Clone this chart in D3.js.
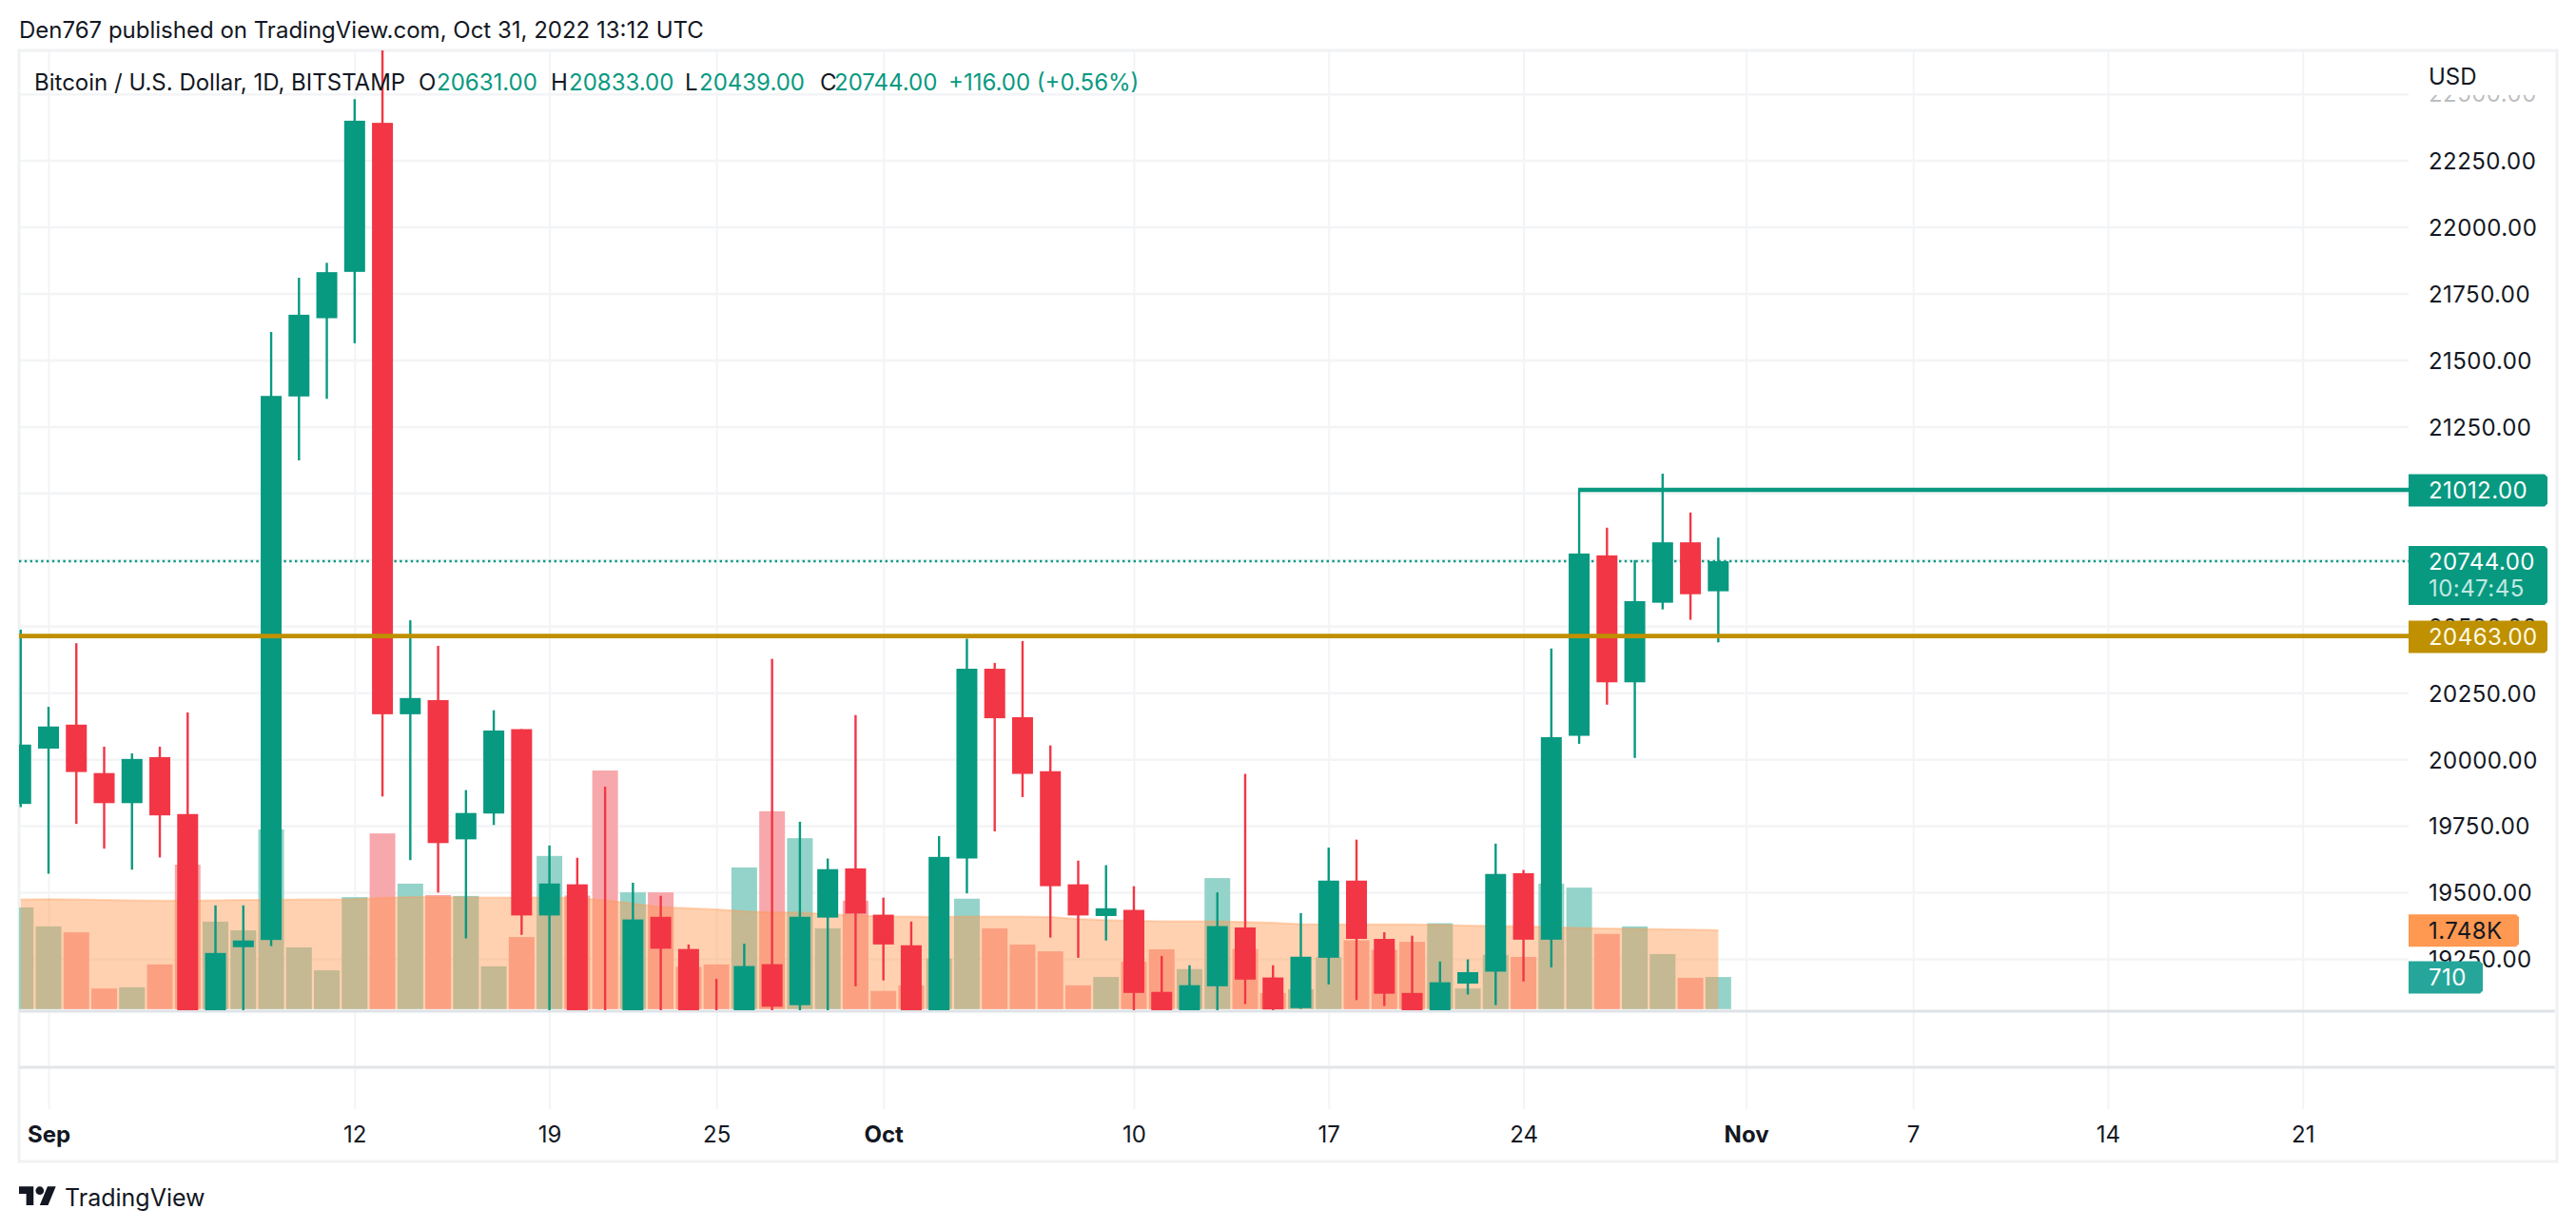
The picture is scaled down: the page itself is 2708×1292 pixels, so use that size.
<!DOCTYPE html>
<html><head><meta charset="utf-8">
<script src="https://cdn.jsdelivr.net/npm/d3@7"></script>
<style>html,body{margin:0;padding:0;background:#fff}svg{display:block}text{font-family:Inter,sans-serif}</style>
</head><body><div id="chart"></div>
<script>
const firstDay = "2022-08-31";
const opens  = [19832,20040,20130,19948,19835,20008,19794,18790,19294,19321,21363,21657,21831,22391,20169,20222,19699,19796,20113,19413,19530,18870,18480,19408,19287,18920,18800,19230,19076,19405,19590,19416,19301,19050,19627,20340,20158,19955,19530,19411,19434,19126,19050,19147,19368,19180,19065,19254,19544,19325,19122,19040,19157,19202,19572,19322,20088,20766,20289,20588,20815,20631];
const highs  = [20487,20197,20436,20047,20022,20047,20176,19451,19451,21605,21809,21865,22480,22790,20522,20426,19884,20184,20113,19676,19630,19897,19536,19487,19304,19175,19307,20377,19765,19627,20166,19480,19390,19711,20453,20362,20444,20052,19619,19602,19523,19261,19226,19500,19945,19226,19422,19668,19698,19350,19337,19240,19248,19683,19584,20416,21012,20870,20748,21073,20927,20833];
const lows   = [19820,19570,19757,19664,19585,19631,18650,18700,18900,19298,21123,21354,21563,19860,19621,19499,19327,19753,19340,18300,18800,18200,18400,18600,18800,18650,18680,18820,18500,18850,19147,19169,18950,18970,19496,19729,19858,19330,19254,19319,18950,18900,18980,18200,19080,18980,19062,19154,19095,19073,18900,18700,19116,19076,19165,19218,20058,20205,20005,20563,20524,20439];
const closes = [20055,20123,19952,19835,20001,19789,18790,19272,19319,21365,21670,21830,22399,20169,20230,19685,19798,20108,19413,19533,18870,18480,19398,19288,18920,18800,19223,19070,19408,19587,19420,19304,19050,19633,20340,20154,19945,19523,19413,19440,19122,19050,19151,19373,19172,19060,19258,19544,19325,19119,19040,19162,19200,19569,19322,20083,20773,20289,20594,20815,20620,20744];
const volumes = [2251,1831,1699,456,482,990,3197,1936,1743,3977,1367,858,2479,3889,2777,2523,2505,946,1594,3390,2514,5282,2584,2584,937,990,3136,4380,3784,1787,2400,402,523,1119,2444,1787,1428,1279,526,710,1051,1323,885,2900,1330,354,438,1148,1524,1314,1489,1901,456,1200,1156,2777,2689,1664,1831,1218,692,710];
const volumeMA = [2427,2435,2427,2418,2409,2400,2400,2409,2418,2418,2427,2427,2435,2462,2479,2479,2470,2470,2470,2470,2462,2409,2339,2260,2234,2208,2164,2137,2137,2102,2076,2050,2050,2041,2050,2050,2050,2041,1997,1971,1953,1945,1945,1945,1927,1910,1883,1875,1875,1875,1875,1866,1848,1840,1831,1813,1796,1787,1778,1770,1761,1748];
const priceTicks = [22500,22250,22000,21750,21500,21250,21000,20750,20500,20250,20000,19750,19500,19250];
const timeTickDays = ["2022-09-01","2022-09-12","2022-09-19","2022-09-25","2022-10-01","2022-10-10","2022-10-17","2022-10-24","2022-11-01","2022-11-07","2022-11-14","2022-11-21"];
const timeTickLabels = ["Sep","12","19","25","Oct","10","17","24","Nov","7","14","21"];
const monthLabels = ["Sep","Oct","Nov"];
const resistance = 21012, support = 20463, lastClose = 20744, lastVolume = "710", lastMA = "1.748K", countdown = "10:47:45";
const publishText = "Den767 published on TradingView.com, Oct 31, 2022 13:12 UTC";
const symbolText = "Bitcoin / U.S. Dollar, 1D, BITSTAMP";
const ohlcLetters = ["O","H","L","C"];
const ohlcValues = ["20631.00","20833.00","20439.00","20744.00"];
const changeText = "+116.00 (+0.56%)";

const GREEN="#089981", RED="#F23645", GOLD="#BF9000", ORANGE="#FF9850", INK="#131722", GRID="#f3f4f6";
const W=2708,H=1292, L=20,R=2688,T=53,B=1221, PR=2532, PB=1062, VB=1166;
const FS=24, LS=0.45;
const svg=d3.select("#chart").append("svg").attr("width",W).attr("height",H).attr("viewBox",[0,0,W,H]);
const parse=d3.utcParse("%Y-%m-%d");
const days=opens.map((_,i)=>d3.utcDay.offset(parse(firstDay),i));
const x=d3.scaleUtc([parse("2022-09-01"),parse("2022-11-01")],[51,1835.6]);
const y=d3.scaleLinear([19250,21250],[1008,448.4]);
const v=d3.scaleLinear([0,1748],[1060.8,977.8]);
const fmt=d3.format(".2f");
const defs=svg.append("defs");
defs.append("clipPath").attr("id","plot").append("rect").attr("x",L).attr("y",T).attr("width",PR-L).attr("height",PB-T);
defs.append("clipPath").attr("id","topfade").append("rect").attr("x",PR).attr("y",100).attr("width",R-PR).attr("height",PB);

// publish text
svg.append("text").attr("x",20).attr("y",32).attr("dy","0.35em").attr("font-size",24).attr("fill",INK).text(publishText);

// grids via axes
const gridY=svg.append("g").attr("transform",`translate(${L},0)`)
  .call(d3.axisRight(y).tickValues(priceTicks).tickSize(PR-L).tickFormat(""));
gridY.select(".domain").remove();
gridY.selectAll("line").attr("stroke",GRID).attr("stroke-width",2.5);
const gridX=svg.append("g").attr("transform",`translate(0,${T})`)
  .call(d3.axisBottom(x).tickValues(timeTickDays.map(parse)).tickSize(VB-T).tickFormat(""));
gridX.select(".domain").remove();
gridX.selectAll("line").attr("stroke",GRID).attr("stroke-width",2);

// frame and panes
svg.append("rect").attr("x",L).attr("y",T).attr("width",R-L).attr("height",B-T).attr("fill","none").attr("stroke","#f0f1f3").attr("stroke-width",3);
svg.append("line").attr("x1",L).attr("x2",R-2).attr("y1",1122).attr("y2",1122).attr("stroke","#e3e5e8").attr("stroke-width",3);

// volume bars
const plot=svg.append("g").attr("clip-path","url(#plot)");
const up=i=>closes[i]>=opens[i];
const barW=27, bodyW=22, wickW=2.4;
plot.append("g").selectAll("rect").data(days).join("rect")
  .attr("x",d=>x(d)-barW/2).attr("width",barW)
  .attr("y",(d,i)=>v(volumes[i])).attr("height",(d,i)=>v(0)-v(volumes[i]))
  .attr("fill",(d,i)=>up(i)?"#94D3C9":"#F7A8AC");
// volume MA area
const area=d3.area().x((d,i)=>x(days[i])).y0(v(0)).y1(d=>v(d)).curve(d3.curveLinear);
plot.append("path").datum(volumeMA).attr("d",area).attr("fill",ORANGE).attr("fill-opacity",0.45);
plot.append("path").datum(volumeMA).attr("d",d3.line().x((d,i)=>x(days[i])).y(d=>v(d))).attr("fill","none").attr("stroke",ORANGE).attr("stroke-opacity",0.35).attr("stroke-width",2);
// baseline
svg.append("line").attr("x1",L).attr("x2",R-2).attr("y1",1063).attr("y2",1063).attr("stroke","#dfe3e8").attr("stroke-width",3);
// current price dotted
svg.append("line").attr("x1",L).attr("x2",PR).attr("y1",y(lastClose)).attr("y2",y(lastClose)).attr("stroke",GREEN).attr("stroke-width",2.4).attr("stroke-dasharray","2.4 3.4");
// candles
const plot2=svg.append("g").attr("clip-path","url(#plot)");
plot2.append("g").selectAll("rect").data(days).join("rect")
  .attr("x",d=>x(d)-wickW/2).attr("width",wickW)
  .attr("y",(d,i)=>y(highs[i])).attr("height",(d,i)=>y(lows[i])-y(highs[i]))
  .attr("fill",(d,i)=>up(i)?GREEN:RED);
plot2.append("g").selectAll("rect").data(days).join("rect")
  .attr("x",d=>x(d)-bodyW/2).attr("width",bodyW)
  .attr("y",(d,i)=>y(Math.max(opens[i],closes[i]))).attr("height",(d,i)=>Math.abs(y(opens[i])-y(closes[i])))
  .attr("fill",(d,i)=>up(i)?GREEN:RED);
// level lines
svg.append("line").attr("x1",L).attr("x2",PR).attr("y1",y(support)).attr("y2",y(support)).attr("stroke",GOLD).attr("stroke-width",4.6);
svg.append("line").attr("x1",x(days[56])-1).attr("x2",PR).attr("y1",y(resistance)).attr("y2",y(resistance)).attr("stroke",GREEN).attr("stroke-width",4.6);

// price axis labels
const axisY=svg.append("g").attr("transform",`translate(${PR},1.2)`)
  .call(d3.axisRight(y).tickValues(priceTicks.slice(1)).tickSize(0).tickPadding(21).tickFormat(fmt));
axisY.select(".domain").remove();
axisY.selectAll("text").attr("font-size",FS).attr("fill",INK).attr("font-family","Inter,sans-serif").attr("letter-spacing",LS);
// faded top tick
svg.append("text").attr("clip-path","url(#topfade)").attr("x",PR+21).attr("y",y(priceTicks[0])+1).attr("dy","0.32em").attr("font-size",FS).attr("letter-spacing",LS).attr("fill",INK).attr("fill-opacity",0.3).text(fmt(priceTicks[0]));
svg.append("text").attr("x",PR+21).attr("y",81).attr("dy","0.35em").attr("font-size",FS).attr("fill",INK).text("USD");

// time axis labels
const axisX=svg.append("g").attr("transform",`translate(0,1184)`)
  .call(d3.axisBottom(x).tickValues(timeTickDays.map(parse)).tickSize(0).tickPadding(0).tickFormat((d,i)=>timeTickLabels[i]));
axisX.select(".domain").remove();
axisX.selectAll("text").attr("font-size",FS).attr("fill",INK).attr("font-family","Inter,sans-serif").attr("dy","0.72em")
  .attr("font-weight",(d,i)=>monthLabels.includes(timeTickLabels[i])?700:400);

// legend
const leg=svg.append("text").attr("y",87).attr("dy","0.35em").attr("font-size",24).attr("fill",INK);
leg.append("tspan").attr("x",36).text(symbolText);
const letterX=[440,579,720,862], valueX=[459,598,735,877];
ohlcLetters.forEach((s,i)=>{
  leg.append("tspan").attr("x",letterX[i]).text(s);
  leg.append("tspan").attr("x",valueX[i]).attr("fill",GREEN).text(ohlcValues[i]);
});
leg.append("tspan").attr("x",997).attr("fill",GREEN).text(changeText);

// value boxes
function box(yTop,h,wid,fill,lines){
  const g=svg.append("g");
  g.append("path").attr("d",d3.line()([[PR,yTop],[PR+wid-3,yTop],[PR+wid,yTop+3],[PR+wid,yTop+h-3],[PR+wid-3,yTop+h],[PR,yTop+h]])+"Z").attr("fill",fill);
  lines.forEach(l=>g.append("text").attr("x",PR+21).attr("y",l.y).attr("dy","0.35em").attr("font-size",FS).attr("letter-spacing",LS).attr("fill",l.c).text(l.t));
}
box(y(resistance)-16.5,34,146,GREEN,[{y:y(resistance)+0.5,t:fmt(resistance),c:"#fff"}]);
box(y(lastClose)-16,62,146,GREEN,[{y:y(lastClose)+0.5,t:fmt(lastClose),c:"#fff"},{y:y(lastClose)+28.5,t:countdown,c:"#c2e8e1"}]);
box(y(support)-16,34,146,GOLD,[{y:y(support)+0.5,t:fmt(support),c:"#fffbe6"}]);
box(v(1748)-16.5,34,116,ORANGE,[{y:v(1748)+0.5,t:lastMA,c:INK}]);
box(v(710)-16.5,34,78,"#26A69A",[{y:v(710)+0.5,t:lastVolume,c:"#fff"}]);

// logo
const logo=svg.append("g").attr("transform","translate(20,1243) scale(1.09)").attr("fill",INK);
logo.append("path").attr("d","M14 22H7V11H0V4h14v18zM28 22h-8l7.5-18h8L28 22z");
logo.append("circle").attr("cx",20).attr("cy",8).attr("r",4);
svg.append("text").attr("x",68).attr("y",1259).attr("dy","0.35em").attr("font-size",25).attr("fill",INK).text("TradingView");
</script></body></html>
